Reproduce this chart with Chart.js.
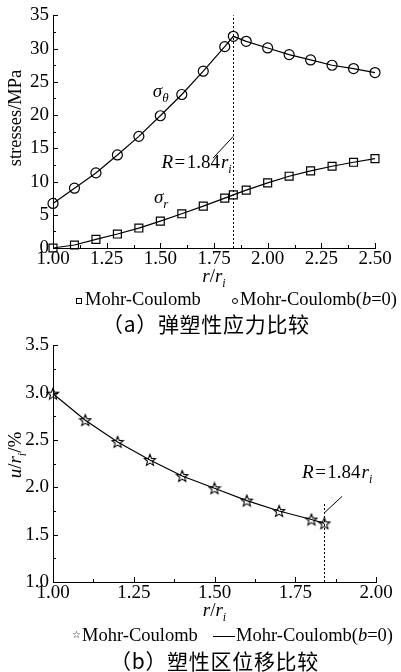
<!DOCTYPE html>
<html>
<head>
<meta charset="utf-8">
<script src="https://cdn.jsdelivr.net/npm/chart.js@4.4.0/dist/chart.umd.min.js"></script>
<style>
body{margin:0;background:#fff;width:401px;height:672px;position:relative;overflow:hidden;font-family:"Liberation Serif",serif;color:#000}
canvas{position:absolute;left:0}
.lg{position:absolute;font-size:18.5px;line-height:1;white-space:nowrap}
.sq{position:absolute;width:4px;height:4px;border:1px solid #000}
.ci{position:absolute;width:4px;height:4px;border:1px solid #000;border-radius:50%}
.ln{position:absolute;width:22px;border-top:1px solid #000}
.cap{position:absolute;font-family:"Noto Sans CJK SC",sans-serif;font-size:21px;letter-spacing:0.7px;line-height:1;white-space:nowrap}
</style>
</head>
<body>
<canvas id="chartA" width="401" height="295" style="top:0"></canvas>
<canvas id="chartB" width="401" height="300" style="top:330px"></canvas>

<!-- legends and captions -->
<div class="sq" style="left:76px;top:298px"></div>
<div class="lg" style="left:85px;top:290px">Mohr-Coulomb</div>
<div class="ci" style="left:232px;top:298px"></div>
<div class="lg" style="left:240px;top:290px">Mohr-Coulomb(<i>b</i>=0)</div>
<div class="cap" style="left:102px;top:313px">（a）弹塑性应力比较</div>

<div class="lg" style="left:72px;top:630px;font-size:10px">☆</div>
<div class="lg" style="left:82px;top:626px">Mohr-Coulomb</div>
<div class="ln" style="left:213px;top:636px"></div>
<div class="lg" style="left:236px;top:626px">Mohr-Coulomb(<i>b</i>=0)</div>
<div class="cap" style="left:110px;top:650px">（b）塑性区位移比较</div>

<script>
// data

let rA = [1.0, 1.1, 1.2, 1.3, 1.4, 1.5, 1.6, 1.7, 1.8, 1.84, 1.9, 2.0, 2.1, 2.2, 2.3, 2.4, 2.5];
let sigmaR = [0, 0.45, 1.3, 2.1, 3.0, 4.05, 5.15, 6.3, 7.5, 8.0, 8.7, 9.8, 10.8, 11.6, 12.3, 12.9, 13.45];
let sigmaTheta = [6.7, 9.0, 11.3, 14.0, 16.8, 19.9, 23.1, 26.6, 30.3, 31.85, 31.1, 30.1, 29.1, 28.3, 27.5, 27.0, 26.4];

let rB = [1.0, 1.1, 1.2, 1.3, 1.4, 1.5, 1.6, 1.7, 1.8, 1.84];
let uMC = [2.99, 2.71, 2.48, 2.29, 2.12, 1.99, 1.86, 1.75, 1.66, 1.62];
let uMCb0 = [2.99, 2.71, 2.48, 2.29, 2.12, 1.99, 1.86, 1.75, 1.66, 1.62];

// axis ranges / tick steps
let xRangeA = [1.0, 2.5], xStepA = 0.25;
let yRangeA = [0, 35], yStepA = 5;
let xRangeB = [1.0, 2.0], xStepB = 0.25;
let yRangeB = [1.0, 3.5], yStepB = 0.5;
let plasticR = 1.84;

const SERIF = '"Liberation Serif"';

const pts = (xs, ys) => xs.map((x, i) => ({x: x, y: ys[i]}));

// outlined star marker
function starImg(){
    let c = document.createElement('canvas');
    c.width = 14; c.height = 14;
    let g = c.getContext('2d');
    g.beginPath();
    for(let i = 0; i < 10; i++){
        let r = i % 2 ? 2.6 : 6;
        let a = -Math.PI / 2 + i * Math.PI / 5;
        g.lineTo(7 + r * Math.cos(a), 7.5 + r * Math.sin(a));
    }
    g.closePath();
    g.lineWidth = 1.1;
    g.strokeStyle = '#000';
    g.stroke();
    return c;
}

// text with italic / subscript parts: [text, italic, size, dy, gapAfter]
function richWidth(ctx, parts){
    let w = 0;
    for(let p of parts){
        ctx.font = (p[1] ? 'italic ' : '') + p[2] + 'px ' + SERIF;
        w += ctx.measureText(p[0]).width + (p[4] || 0);
    }
    return w;
}
function rich(ctx, parts, x, y){
    for(let p of parts){
        ctx.font = (p[1] ? 'italic ' : '') + p[2] + 'px ' + SERIF;
        ctx.fillText(p[0], x, y + (p[3] || 0));
        x += ctx.measureText(p[0]).width + (p[4] || 0);
    }
}

const decor = (o) => ({
    id: 'decor',
    afterDraw(chart){
        const {ctx, chartArea: a, scales: {x, y}} = chart;
        ctx.save();
        ctx.strokeStyle = '#000';
        ctx.fillStyle = '#000';
        ctx.lineWidth = 1;
        ctx.textBaseline = 'alphabetic';

        // inward ticks, major + minor
        ctx.beginPath();
        let nx = Math.round((x.max - x.min) / o.xMinor);
        for(let k = 0; k <= nx; k++){
            let px = Math.round(x.getPixelForValue(x.min + k * o.xMinor)) + 0.5;
            ctx.moveTo(px, a.bottom);
            ctx.lineTo(px, a.bottom - (k % 2 ? 3 : 5));
        }
        let ny = Math.round((y.max - y.min) / o.yMinor);
        for(let k = 0; k <= ny; k++){
            let py = Math.round(y.getPixelForValue(y.min + k * o.yMinor)) + 0.5;
            ctx.moveTo(a.left, py);
            ctx.lineTo(a.left + (k % 2 ? 3 : 5), py);
        }
        ctx.stroke();

        // dotted line at R
        let dx = Math.round(x.getPixelForValue(plasticR)) + 0.5;
        ctx.beginPath();
        ctx.setLineDash([2, 2]);
        ctx.moveTo(dx, a.bottom);
        ctx.lineTo(dx, y.getPixelForValue(o.dotTop));
        ctx.stroke();
        ctx.setLineDash([]);

        // leader line
        ctx.beginPath();
        ctx.moveTo(x.getPixelForValue(o.lead[0]), y.getPixelForValue(o.lead[1]));
        ctx.lineTo(x.getPixelForValue(o.lead[2]), y.getPixelForValue(o.lead[3]));
        ctx.stroke();

        // notes
        for(let n of o.notes){
            rich(ctx, n.parts, x.getPixelForValue(n.x), y.getPixelForValue(n.y));
        }

        // x title
        let xt = [['r', true, 19], ['/', false, 19], ['r', true, 19], ['i', true, 12, 5]];
        let cx = (a.left + a.right) / 2;
        rich(ctx, xt, cx - richWidth(ctx, xt) / 2, a.bottom + 34);

        // y title
        ctx.translate(o.yTitle[0], o.yTitle[1]);
        ctx.rotate(-Math.PI / 2);
        rich(ctx, o.yParts, -richWidth(ctx, o.yParts) / 2, 6);
        ctx.restore();
    }
});

function scales(xr, xs, yr, ys, ydec, xh){
    return {
        x: {
            type: 'linear', min: xr[0], max: xr[1],
            ticks: {stepSize: xs, padding: 0, color: '#000', maxRotation: 0, autoSkip: false,
                font: {family: SERIF, size: 19},
                callback: v => v.toFixed(2)},
            grid: {display: false, drawTicks: false},
            border: {display: true, color: '#000', width: 1},
            afterFit: s => { s.height = xh; }
        },
        y: {
            type: 'linear', min: yr[0], max: yr[1],
            ticks: {stepSize: ys, padding: 4, color: '#000',
                font: {family: SERIF, size: 19},
                callback: v => v.toFixed(ydec)},
            grid: {display: false, drawTicks: false},
            border: {display: true, color: '#000', width: 1},
            afterFit: s => { s.width = 53; }
        }
    };
}

function drawAll(){

    // chart (a) stresses

    new Chart(document.getElementById('chartA'), {
        type: 'line',
        data: {
            datasets: [{
                label: 'Mohr-Coulomb',
                data: pts(rA, sigmaR),
                borderColor: '#000', borderWidth: 1.2,
                pointStyle: 'rect', pointRadius: 5.6,
                pointBorderColor: '#000', pointBackgroundColor: 'rgba(0,0,0,0)', pointBorderWidth: 1.2,
                tension: 0, clip: false
            }, {
                label: 'Mohr-Coulomb(b=0)',
                data: pts(rA, sigmaTheta),
                borderColor: '#000', borderWidth: 1.2,
                pointStyle: 'circle', pointRadius: 5,
                pointBorderColor: '#000', pointBackgroundColor: 'rgba(0,0,0,0)', pointBorderWidth: 1.2,
                tension: 0, clip: false
            }]
        },
        options: {
            responsive: false,
            animation: false,
            layout: {padding: {top: 12, right: 26, left: 0, bottom: 0}},
            scales: scales(xRangeA, xStepA, yRangeA, yStepA, 0, 47),
            plugins: {legend: {display: false}, tooltip: {enabled: false}}
        },
        plugins: [decor({
            xMinor: 0.125, yMinor: 2.5, dotTop: 35,
            lead: [1.745, 13.5, 1.84, 16.8],
            yTitle: [15, 118],
            yParts: [['stresses/MPa', false, 18.5]],
            notes: [
                {x: 1.505, y: 12.0, parts: [['R', true, 19, 0, 1.5], ['=', false, 19, 0, 1.5], ['1.84', false, 19, 0, 1], ['r', true, 19], ['i', true, 12, 5]]},
                {x: 1.465, y: 22.7, parts: [['σ', true, 19], ['θ', true, 13, 5]]},
                {x: 1.47, y: 6.7, parts: [['σ', true, 19], ['r', true, 13, 5]]}
            ]
        })]
    });

    // chart (b) displacement

    new Chart(document.getElementById('chartB'), {
        type: 'line',
        data: {
            datasets: [{
                label: 'Mohr-Coulomb',
                data: pts(rB, uMC),
                showLine: false,
                pointStyle: starImg(), pointRadius: 6,
                clip: false
            }, {
                label: 'Mohr-Coulomb(b=0)',
                data: pts(rB, uMCb0),
                borderColor: '#000', borderWidth: 1.2,
                pointRadius: 0,
                tension: 0, clip: false
            }]
        },
        options: {
            responsive: false,
            animation: false,
            layout: {padding: {top: 14, right: 25, left: 0, bottom: 0}},
            scales: scales(xRangeB, xStepB, yRangeB, yStepB, 1, 48),
            plugins: {legend: {display: false}, tooltip: {enabled: false}}
        },
        plugins: [decor({
            xMinor: 0.125, yMinor: 0.25, dotTop: 1.83,
            lead: [1.84, 1.73, 1.895, 1.905],
            yTitle: [15, 125],
            yParts: [['u', true, 19], ['/', false, 19], ['r', true, 19], ['i', true, 12, 5], ['/%', false, 19]],
            notes: [
                {x: 1.771, y: 2.095, parts: [['R', true, 19, 0, 1.5], ['=', false, 19, 0, 1.5], ['1.84', false, 19, 0, 1], ['r', true, 19], ['i', true, 12, 5]]}
            ]
        })]
    });
}

// make sure the serif faces are ready before the canvas text is drawn
Promise.all([
    document.fonts.load('19px "Liberation Serif"'),
    document.fonts.load('italic 19px "Liberation Serif"')
]).then(drawAll, drawAll);
</script>
</body>
</html>
